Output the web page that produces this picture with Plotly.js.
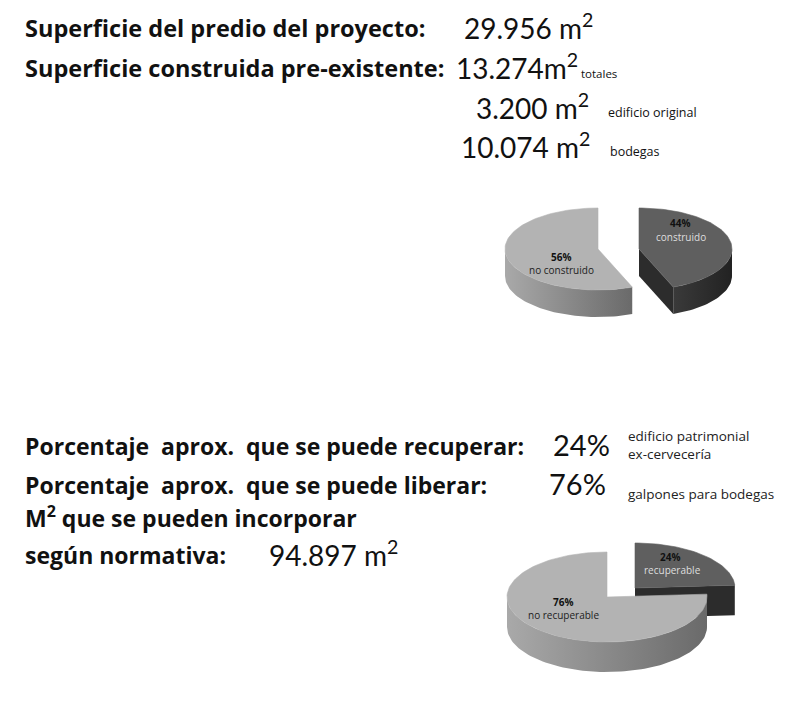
<!DOCTYPE html>
<html>
<head>
<meta charset="utf-8">
<script src="https://cdn.plot.ly/plotly-3.0.1.min.js"></script>
<style>html,body{margin:0;padding:0;background:#fff;}#chart{width:795px;height:702px;}</style>
</head>
<body>
<div id="chart"></div>
<script>
// ---------- DATA ----------
const headerLabels = ['Superficie del predio del proyecto:', 'Superficie construida pre-existente:'];
const areaNumbers = ['29.956 m', '13.274m', '3.200 m', '10.074 m'];
const areaNotes = ['', 'totales', 'edificio original', 'bodegas'];
const pie1Labels = ['construido', 'no construido'];
const pie1Values = [44, 56];
const bottomLabels = ['Porcentaje\u00a0 aprox.\u00a0 que se puede recuperar:', 'Porcentaje\u00a0 aprox.\u00a0 que se puede liberar:', 'M<sup>2</sup> que se pueden incorporar', 'según normativa:'];
const pctNumbers = ['24%', '76%'];
const pctNotes = ['edificio patrimonial<br>ex-cervecería', 'galpones para bodegas'];
const normNumber = '94.897 m';
const pie2Labels = ['recuperable', 'no recuperable'];
const pie2Values = [24, 76];

// ---------- LAYOUT / STYLE ----------
const BOLD = '"Open Sans", Lato, sans-serif';
const NUM = 'Lato, "Open Sans", sans-serif';
const NOTE = '"Open Sans", Lato, sans-serif';
const pie1 = {cx: 598, cy: 249, rx: 93, ry: 41, h: 27, explode: [[41, 0], [0, 0]]};
const pie2 = {cx: 607, cy: 597, rx: 100, ry: 45, h: 30, explode: [[28, -9], [0, 0]]};
const sliceStyle = [
  {top: '#5f5f5f', side: [[0, '#3a3a3a'], [1, '#222222']], face: '#2c2c2c', pct: '#111', lab: '#dedede'},
  {top: '#b3b3b3', side: [[0, '#a9a9a9'], [1, '#6a6a6a']], face: '#8a8a8a', pct: '#111', lab: '#222'}
];

function pt(p, a, dx, dy, dh) {
  const r = a * Math.PI / 180;
  return [p.cx + dx + p.rx * Math.sin(r), p.cy + dy - p.ry * Math.cos(r) + dh];
}
function arc(p, a0, a1, dx, dy, dh) {
  const out = [];
  const n = Math.max(2, Math.ceil(Math.abs(a1 - a0) / 2));
  for (let i = 0; i <= n; i++) out.push(pt(p, a0 + (a1 - a0) * i / n, dx, dy, dh));
  return out;
}
function poly(pts, opts) {
  return Object.assign({
    type: 'scatter', mode: 'lines', x: pts.map(q => q[0]), y: pts.map(q => q[1]),
    fill: 'toself', line: {width: 0}, hoverinfo: 'skip', showlegend: false
  }, opts);
}
function pieTraces(p, values) {
  const total = values.reduce((s, v) => s + v, 0);
  let acc = 0;
  const slices = values.map((v, i) => {
    const a0 = acc / total * 360; acc += v; const a1 = acc / total * 360;
    return {i, a0, a1, dx: p.explode[i][0], dy: p.explode[i][1]};
  });
  slices.sort((s, t) => s.dy - t.dy);
  const traces = [];
  slices.forEach(s => {
    const st = sliceStyle[s.i];
    const V = [p.cx + s.dx, p.cy + s.dy];
    const Vb = [V[0], V[1] + p.h];
    [[s.a0, s.a0 - 90], [s.a1, s.a1 + 90]].forEach(([a, nrm]) => {
      if (Math.cos(nrm * Math.PI / 180) < -0.01) {
        const e = pt(p, a, s.dx, s.dy, 0), eb = pt(p, a, s.dx, s.dy, p.h);
        traces.push(poly([V, e, eb, Vb, V], {fillcolor: st.face}));
      }
    });
    const s0 = Math.max(s.a0, 90), s1 = Math.min(s.a1, 270);
    if (s1 > s0) {
      const pts = arc(p, s0, s1, s.dx, s.dy, 0).concat(arc(p, s1, s0, s.dx, s.dy, p.h));
      pts.push(pts[0]);
      traces.push(poly(pts, {fillcolor: st.side[0][1], fillgradient: {type: 'horizontal', colorscale: st.side}}));
    }
    const top = [V].concat(arc(p, s.a0, s.a1, s.dx, s.dy, 0)); top.push(V);
    traces.push(poly(top, {fillcolor: st.top, line: {width: 0.6, color: st.top}}));
  });
  return traces;
}

const traces = pieTraces(pie1, pie1Values).concat(pieTraces(pie2, pie2Values));

function T(x, yb, text, size, family, color, anchor, bold) {
  return {
    xref: 'x', yref: 'y', x: x, y: yb - 0.3 * size, xanchor: anchor || 'left', yanchor: 'middle',
    text: bold ? '<b>' + text + '</b>' : text, showarrow: false, borderpad: 0, align: 'left',
    font: {family: family, size: size, color: color || '#111'}
  };
}
const sq = '<sup>2</sup>';
const ann = [
  T(24, 35, headerLabels[0], 23.5, BOLD, '#111', 'left', true),
  T(463, 35, areaNumbers[0] + sq, 28, NUM),
  T(24, 75, headerLabels[1], 23.5, BOLD, '#111', 'left', true),
  T(455, 75, areaNumbers[1] + sq, 28, NUM),
  T(580, 77, areaNotes[1], 11.5, NOTE),
  T(475, 115, areaNumbers[2] + sq, 28, NUM),
  T(607, 116, areaNotes[2], 12.5, NOTE),
  T(460, 154, areaNumbers[3] + sq, 28, NUM),
  T(609, 155, areaNotes[3], 12.5, NOTE),
  T(680, 226, '<b>' + pie1Values[0] + '%</b>', 10, NOTE, sliceStyle[0].pct, 'center'),
  T(681, 240, pie1Labels[0], 10, NOTE, sliceStyle[0].lab, 'center'),
  T(561, 260, '<b>' + pie1Values[1] + '%</b>', 10, NOTE, sliceStyle[1].pct, 'center'),
  T(561, 273, pie1Labels[1], 10, NOTE, sliceStyle[1].lab, 'center'),
  T(24, 453, bottomLabels[0], 23, BOLD, '#111', 'left', true),
  T(552, 453, pctNumbers[0], 29, NUM),
  {xref: 'x', yref: 'y', x: 627, y: 445, xanchor: 'left', yanchor: 'middle', text: pctNotes[0], showarrow: false, align: 'left', borderpad: 0,
   font: {family: NOTE, size: 13.5, color: '#222'}},
  T(24, 492, bottomLabels[1], 23, BOLD, '#111', 'left', true),
  T(548, 492, pctNumbers[1], 29, NUM),
  T(627, 498, pctNotes[1], 13.5, NOTE, '#222'),
  T(24, 524, bottomLabels[2], 23, BOLD, '#111', 'left', true),
  T(24, 562, bottomLabels[3], 23, BOLD, '#111', 'left', true),
  T(268, 562, normNumber + sq, 28, NUM),
  T(670, 560, '<b>' + pie2Values[0] + '%</b>', 10, NOTE, sliceStyle[0].pct, 'center'),
  T(672, 573, pie2Labels[0], 10, NOTE, sliceStyle[0].lab, 'center'),
  T(563, 605, '<b>' + pie2Values[1] + '%</b>', 10, NOTE, sliceStyle[1].pct, 'center'),
  T(563, 618, pie2Labels[1], 10, NOTE, sliceStyle[1].lab, 'center')
];

const layout = {
  width: 795, height: 702, margin: {l: 0, r: 0, t: 0, b: 0},
  paper_bgcolor: '#fff', plot_bgcolor: '#fff', showlegend: false,
  xaxis: {range: [0, 795], visible: false, fixedrange: true},
  yaxis: {range: [702, 0], visible: false, fixedrange: true},
  annotations: ann
};
Plotly.newPlot('chart', traces, layout, {staticPlot: true});
</script>
</body>
</html>
